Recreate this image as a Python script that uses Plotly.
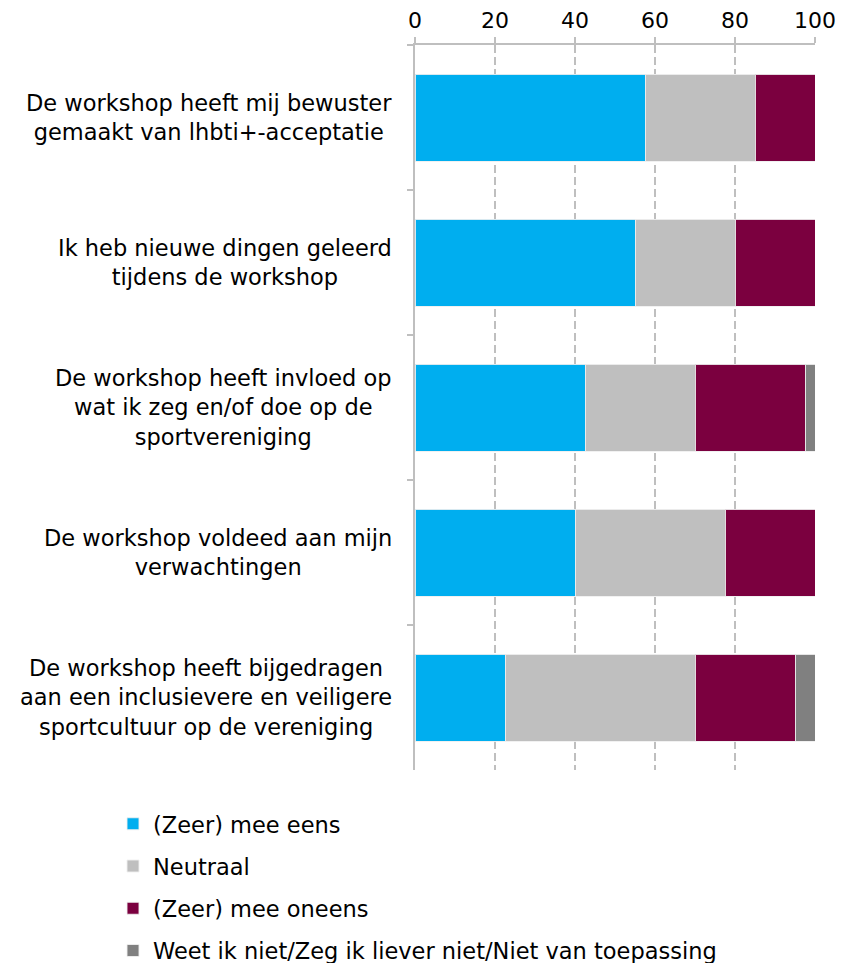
import plotly.graph_objects as go

categories = [
    "De workshop heeft mij bewuster<br>gemaakt van lhbti+-acceptatie",
    "Ik heb nieuwe dingen geleerd<br>tijdens de workshop",
    "De workshop heeft invloed op<br>wat ik zeg en/of doe op de<br>sportvereniging",
    "De workshop voldeed aan mijn<br>verwachtingen",
    "De workshop heeft bijgedragen<br>aan een inclusievere en veiligere<br>sportcultuur op de vereniging",
]
series_names = [
    "(Zeer) mee eens",
    "Neutraal",
    "(Zeer) mee oneens",
    "Weet ik niet/Zeg ik liever niet/Niet van toepassing",
]
eens = [57.5, 55, 42.5, 40, 22.5]
neutraal = [27.5, 25, 27.5, 37.5, 47.5]
oneens = [15, 20, 27.5, 22.5, 25]
weet_niet = [0, 0, 2.5, 0, 5]
series_values = [eens, neutraal, oneens, weet_niet]
colors = ["#00AEEF", "#BFBFBF", "#7B003F", "#808080"]
x_ticks = [0, 20, 40, 60, 80, 100]

FONT = "DejaVu Sans"
FS = 22.5

fig = go.Figure()
for i, (name, vals, col) in enumerate(zip(series_names, series_values, colors)):
    fig.add_trace(go.Bar(
        y=categories, x=vals, name=name, orientation="h",
        marker=dict(color=col, line=dict(color="rgba(240,240,240,0.9)", width=1)),
        legendgroup=f"g{i}",
    ))

for c in categories:
    fig.add_annotation(
        x=-0.052, xref="paper", y=c, yref="y", text=c, showarrow=False,
        xanchor="right", yanchor="middle", align="center",
        font=dict(family=FONT, size=FS, color="#000000"),
    )

fig.update_layout(
    width=844, height=955,
    margin=dict(l=407, r=37, t=37, b=193, autoexpand=False),
    barmode="stack", bargap=0.4,
    plot_bgcolor="white", paper_bgcolor="white",
    font=dict(family=FONT, size=FS, color="#000000"),
    legend=dict(
        x=-0.755, y=-0.045, xanchor="left", yanchor="top",
        orientation="v", traceorder="grouped", tracegroupgap=10,
        font=dict(family=FONT, size=22.5, color="#000000"),
        itemwidth=30,
    ),
    xaxis=dict(
        side="top", range=[0, 100], tickvals=x_ticks,
        showgrid=True, gridcolor="#BFBFBF", gridwidth=2, griddash="8px,4px",
        showline=True, linecolor="#BFBFBF", linewidth=2,
        ticks="outside", ticklen=6, tickcolor="#BFBFBF", tickwidth=2,
        ticklabelstandoff=0,
        zeroline=False, tickfont=dict(family=FONT, size=22),
    ),
    yaxis=dict(
        autorange="reversed", showticklabels=False,
        showline=True, linecolor="#BFBFBF", linewidth=2,
        ticks="outside", ticklen=6, tickcolor="#BFBFBF", tickwidth=2,
        tickson="boundaries", showgrid=False,
    ),
)

fig.write_html("out.html")
